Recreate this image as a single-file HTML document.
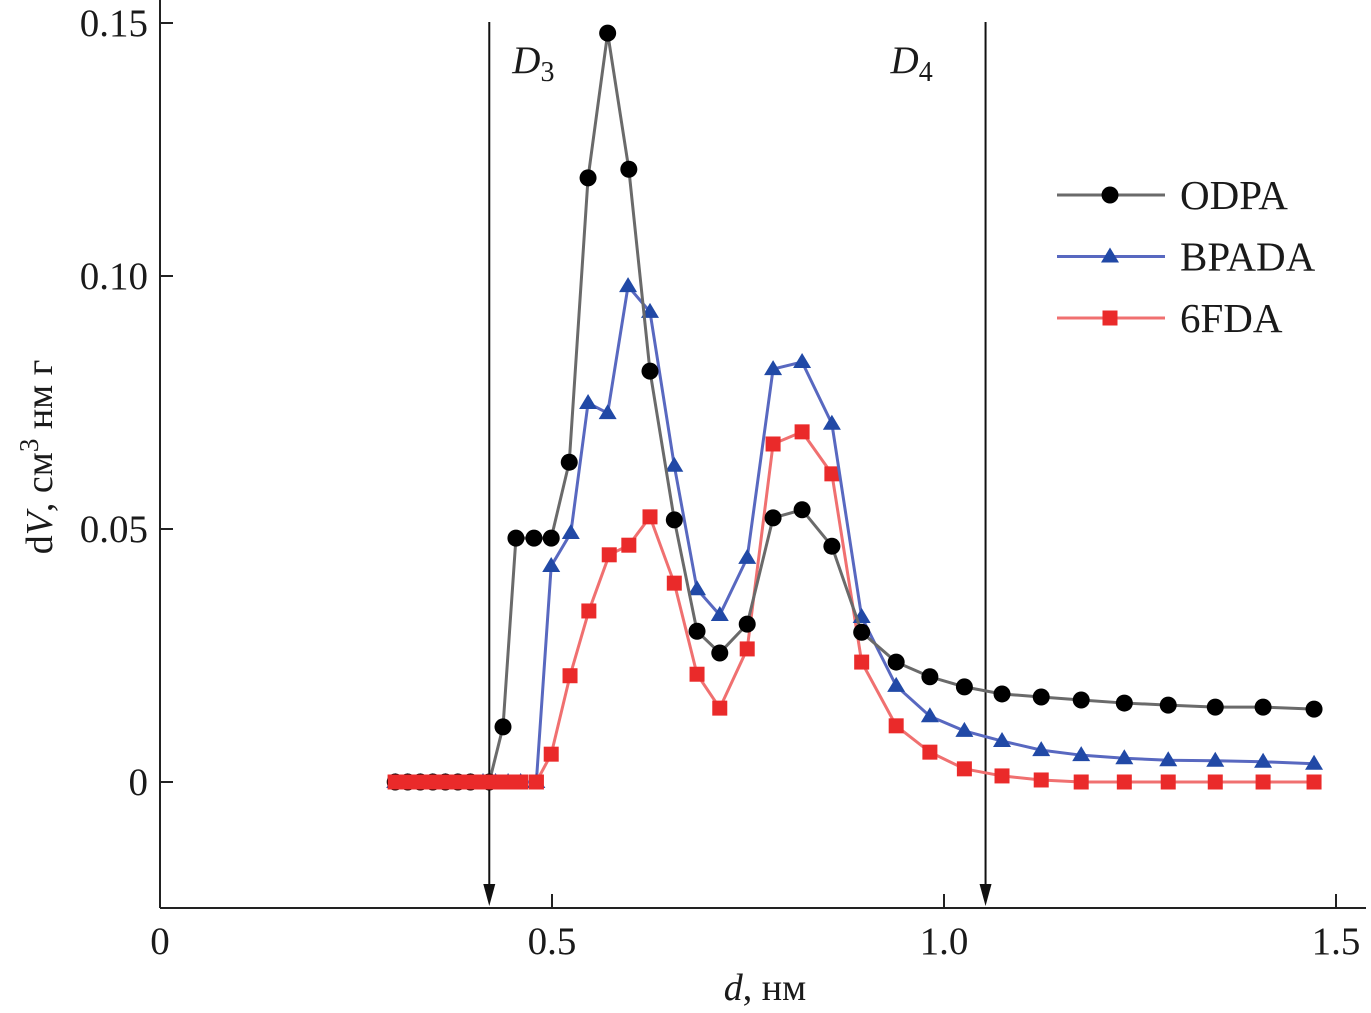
<!DOCTYPE html>
<html><head><meta charset="utf-8"><style>
body{margin:0;background:#fff}
svg{display:block}
text{font-family:"Liberation Serif",serif;fill:#1a1a1a}
</style></head><body>
<svg id="chart" width="1371" height="1013" viewBox="0 0 1371 1013" xmlns="http://www.w3.org/2000/svg">
<g id="axes"></g>
<g id="series"></g>
<g id="legend"></g>
</svg>
<script>
const odpaX = [0.30,0.316,0.332,0.348,0.364,0.38,0.396,0.42,0.4375,0.454,0.477,0.499,0.522,0.546,0.571,0.598,0.625,0.656,0.685,0.714,0.749,0.782,0.819,0.857,0.895,0.939,0.982,1.026,1.074,1.124,1.175,1.230,1.286,1.346,1.407,1.472];
const odpaY = [0,0,0,0,0,0,0,0,0.0109,0.0482,0.0482,0.0482,0.0632,0.1194,0.148,0.1211,0.0812,0.0518,0.0298,0.0255,0.0312,0.0522,0.0538,0.0466,0.0296,0.0237,0.0208,0.0188,0.0174,0.0168,0.0162,0.0156,0.0152,0.0148,0.0148,0.0144];
const bpadaX = [0.30,0.316,0.332,0.348,0.364,0.38,0.396,0.412,0.428,0.444,0.46,0.48,0.499,0.524,0.546,0.571,0.597,0.625,0.656,0.685,0.714,0.749,0.782,0.819,0.857,0.895,0.939,0.982,1.026,1.074,1.124,1.175,1.230,1.286,1.346,1.407,1.472];
const bpadaY = [0,0,0,0,0,0,0,0,0,0,0,0,0.0427,0.0492,0.0749,0.0729,0.098,0.0929,0.0625,0.0381,0.033,0.0443,0.0816,0.083,0.0708,0.0326,0.019,0.013,0.0101,0.0081,0.0063,0.0053,0.0047,0.0043,0.0042,0.004,0.0036];
const fdaX = [0.30,0.316,0.332,0.348,0.364,0.38,0.396,0.412,0.428,0.444,0.46,0.48,0.499,0.523,0.547,0.573,0.598,0.625,0.656,0.685,0.714,0.749,0.782,0.819,0.857,0.895,0.939,0.982,1.026,1.074,1.124,1.175,1.230,1.286,1.346,1.407,1.472];
const fdaY = [0,0,0,0,0,0,0,0,0,0,0,0,0.0055,0.021,0.0338,0.0449,0.0468,0.0524,0.0393,0.0213,0.0146,0.0263,0.0668,0.0692,0.0609,0.0237,0.0111,0.0059,0.0026,0.0012,0.0004,0,0,0,0,0,0];
const xTicks = [0,0.5,1.0,1.5];
const xTickLabels = ["0","0.5","1.0","1.5"];
const yTicks = [0,0.05,0.10,0.15];
const yTickLabels = ["0","0.05","0.10","0.15"];
const markerLines = [0.42,1.053];
const markerLabels = ["D","D"];
const markerSubs = ["3","4"];

const NS="http://www.w3.org/2000/svg";
const X0=160, XS=784, Y0=782, YS=5060, AXY=908;
const sx=d=>X0+d*XS, sy=v=>Y0-v*YS;
function mk(tag,attrs,parent){const e=document.createElementNS(NS,tag);for(const k in attrs)e.setAttribute(k,attrs[k]);parent.appendChild(e);return e;}
const axes=document.getElementById('axes'), series=document.getElementById('series'), legend=document.getElementById('legend');

let e=mk('line',{x1:X0,y1:0,x2:X0,y2:AXY,stroke:'#222','stroke-width':2},axes);


e=mk('line',{x1:X0,y1:AXY,x2:1366,y2:AXY,stroke:'#222','stroke-width':2},axes);


xTicks.forEach((t,i)=>{
  if(t>0){const tk=mk('line',{x1:sx(t),y1:AXY,x2:sx(t),y2:AXY-14,stroke:'#222','stroke-width':2},axes);
  
  }
  const l=mk('text',{x:sx(t),y:954,'text-anchor':'middle','font-size':39},axes);l.textContent=xTickLabels[i];
  
  
});
yTicks.forEach((t,i)=>{
  const tk=mk('line',{x1:X0,y1:sy(t),x2:X0+13,y2:sy(t),stroke:'#222','stroke-width':2},axes);
  
  
  const l=mk('text',{x:148,y:sy(t)+13,'text-anchor':'end','font-size':39},axes);l.textContent=yTickLabels[i];
  
  
});
const labelOff=[23,-95];
markerLines.forEach((m,i)=>{
  const x=sx(m);
  const ln=mk('line',{x1:x,y1:22,x2:x,y2:AXY-20,stroke:'#111','stroke-width':2},axes);
  
  
  const ar=mk('polygon',{points:`${x-6},${AXY-24} ${x+6},${AXY-24} ${x},${AXY-2}`,fill:'#111'},axes);
  
  
  const t=mk('text',{x:x+labelOff[i],y:73,'font-size':39,'font-style':'italic'},axes);
  t.innerHTML=markerLabels[i]+'<tspan font-style="normal" font-size="28" dy="8">'+markerSubs[i]+'</tspan>';
  
  
});
let yt=mk('text',{transform:'translate(52,457) rotate(-90)','text-anchor':'middle','font-size':38},axes);
yt.innerHTML='d<tspan font-style="italic">V</tspan>, см<tspan font-size="27" dy="-14">3</tspan><tspan dy="14"> нм г</tspan>';


let xt=mk('text',{x:765,y:1000,'text-anchor':'middle','font-size':38},axes);
xt.innerHTML='<tspan font-style="italic">d</tspan>, нм';



function marker(type,x,y,color,parent){
  let m;
  if(type==='circle') m=mk('circle',{cx:x,cy:y,r:8.5,fill:color},parent);
  else if(type==='tri') m=mk('polygon',{points:`${x-9},${y+6} ${x+9},${y+6} ${x},${y-9}`,fill:color},parent);
  else m=mk('rect',{x:x-7.5,y:y-7.5,width:15,height:15,fill:color},parent);
  return m;
}
const defs=[
 {name:'odpa',X:odpaX,Y:odpaY,line:'#6a6a6a',mcol:'#000',type:'circle',label:'ODPA'},
 {name:'bpada',X:bpadaX,Y:bpadaY,line:'#5868c0',mcol:'#2149a6',type:'tri',label:'BPADA'},
 {name:'6fda',X:fdaX,Y:fdaY,line:'#f07070',mcol:'#ea2a2a',type:'square',label:'6FDA'}
];
[defs[2],defs[1],defs[0]].forEach(s=>{
  const g=mk('g',{},series);
  
  
  const pl=mk('polyline',{points:s.X.map((x,i)=>sx(x)+','+sy(s.Y[i])).join(' '),fill:'none',stroke:s.line,'stroke-width':3},g);
  
  
  s.X.forEach((x,i)=>{
    const m=marker(s.type,sx(x),sy(s.Y[i]),s.mcol,g);
    
    
  });
});
// red zero-level points drawn on top in the low-d region
const over=mk('g',{},series);


fdaX.forEach((x,i)=>{
  if(x<0.49 && fdaY[i]===0){
    const m=marker('square',sx(x),sy(fdaY[i]),'#ea2a2a',over);
    
    
  }
});
defs.forEach((s,i)=>{
  const y=195+i*61.5;
  const g=mk('g',{},legend);
  
  
  mk('line',{x1:1057,y1:y,x2:1165,y2:y,stroke:s.line,'stroke-width':3},g);
  marker(s.type,1110,y,s.mcol,g);
  const t=mk('text',{x:1180,y:y+14,'font-size':41},g);t.textContent=s.label;
});
</script>
</body></html>
